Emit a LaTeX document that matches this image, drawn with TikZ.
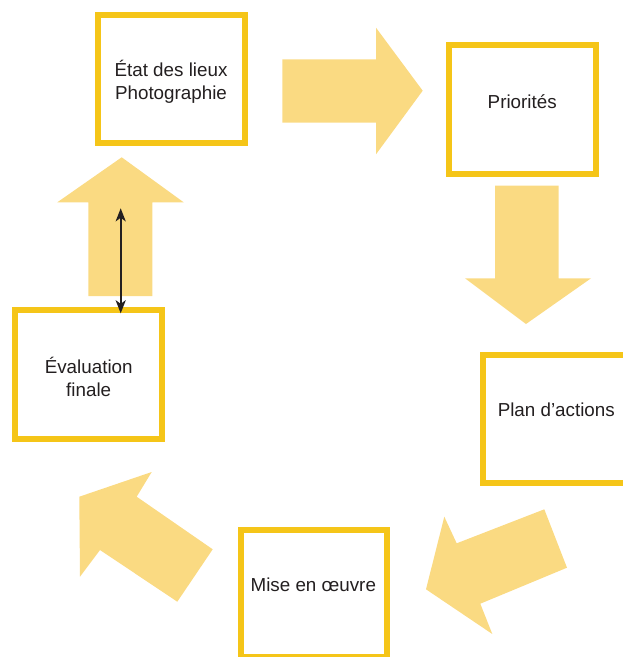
\documentclass[tikz,border=0pt]{standalone}
\usepackage{fontspec}
\setmainfont{Liberation Sans}
\usetikzlibrary{arrows.meta}
\definecolor{boxline}{HTML}{F5C518}
\definecolor{arrowfill}{HTML}{FADA82}
\definecolor{txt}{HTML}{231F20}
\tikzset{
  boxframe/.style={draw=boxline, line width=6pt, fill=white},
  lbl/.style={anchor=base, inner sep=0pt, text=txt, font=\fontsize{18.8}{22.6}\selectfont},
  blockarrow/.style={fill=arrowfill, draw=none},
  twoway/.style={draw=txt, line width=2pt, {Stealth[length=13pt,width=10pt,inset=3.5pt]}-{Stealth[length=13pt,width=10pt,inset=3.5pt]}}
}
\begin{document}
\begin{tikzpicture}[x=1pt,y=-1pt]
\useasboundingbox (0,0) rectangle (623,657);
\clip (0,0) rectangle (623,657);
% boxes
\draw[boxframe] (98,14.7) rectangle (244.7,142.5);
\node[lbl] (t1a) at (171,76.7) {État des lieux};
\node[lbl] (t1b) at (171,99.3) {Photographie};
\draw[boxframe] (448.7,45.3) rectangle (595.7,173.5);
\node[lbl] (t2) at (522.2,108.3) {Priorités};
\draw[boxframe] (483.3,354.7) rectangle (640,482.7);
\node[lbl] (t3) at (556.3,416.7) {Plan d’actions};
\draw[boxframe] (240.7,529.7) rectangle (387.3,657.3);
\node[lbl] (t4) at (313.3,591.7) {Mise en œuvre};
\draw[boxframe] (15.3,310.3) rectangle (162.3,438.7);
\node[lbl] (t5a) at (88.7,373.3) {Évaluation};
\node[lbl] (t5b) at (88.7,396) {finale};
% block arrows
\fill[blockarrow] (282.3,59.3) -- (376,59.3) -- (376,27.7) -- (422.7,90.7) -- (376,154.3) -- (376,122.7) -- (282.3,122.7) -- cycle;
\fill[blockarrow] (495,185.7) -- (558.7,185.7) -- (558.7,278.3) -- (591,278.3) -- (526,324) -- (465,278.3) -- (495,278.3) -- cycle;
\fill[blockarrow] (544.3,509.3) -- (567,567.7) -- (480.3,603.7) -- (492.3,634) -- (426,589.3) -- (444.3,516.7) -- (456.7,543.3) -- cycle;
\fill[blockarrow] (79.3,496.7) -- (151.7,472) -- (136.7,496.7) -- (212.7,549.3) -- (177.3,601.7) -- (100,550) -- (80,576.7) -- cycle;
\fill[blockarrow] (88.3,296) -- (152.3,296) -- (152.3,202.3) -- (183.7,202.3) -- (121.7,157.3) -- (57.3,202.3) -- (88.3,202.3) -- cycle;
% double arrow
\coordinate (dtop) at (120.7,208.3);
\coordinate (dbot) at (120.7,313.3);
\draw[twoway] (dtop) -- (dbot);
\end{tikzpicture}
\end{document}
